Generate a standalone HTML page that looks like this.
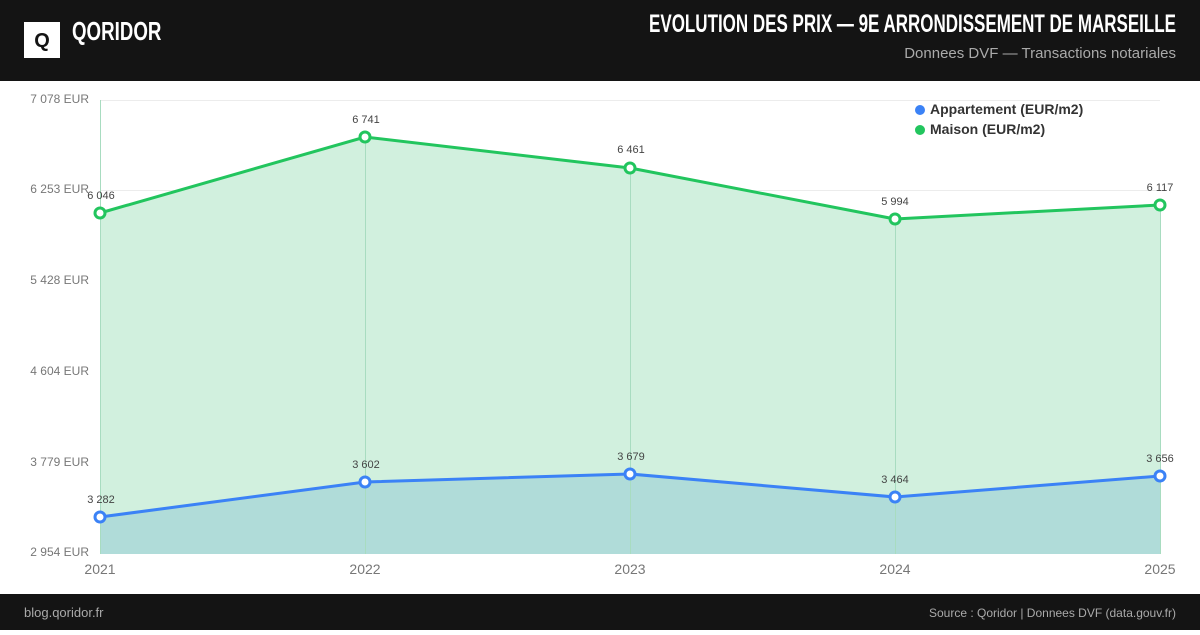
<!DOCTYPE html>
<html><head><meta charset="utf-8"><style>
body{margin:0;width:1200px;height:630px;overflow:hidden;background:#fff;font-family:"Liberation Sans",sans-serif}
</style></head><body>
<svg width="1200" height="630" xmlns="http://www.w3.org/2000/svg" font-family="Liberation Sans, sans-serif">
<rect x="0" y="0" width="1200" height="81" fill="#141414"/>
<rect x="24" y="22" width="36" height="36" fill="#fff"/>
<text x="42" y="47" text-anchor="middle" font-size="20" font-weight="bold" fill="#141414">Q</text>
<text x="72" y="40" font-size="26" font-weight="bold" fill="#fff" transform="translate(72 0) scale(0.72 1) translate(-72 0)">QORIDOR</text>
<text x="1176" y="32" text-anchor="end" font-size="25" font-weight="bold" fill="#fff" transform="translate(1176 0) scale(0.68 1) translate(-1176 0)">EVOLUTION DES PRIX — 9E ARRONDISSEMENT DE MARSEILLE</text>
<text x="1176" y="58" text-anchor="end" font-size="15" fill="#aaa">Donnees DVF — Transactions notariales</text>
<g stroke="#ececec" stroke-width="1">
<line x1="100" y1="100.5" x2="1160" y2="100.5"/>
<line x1="100" y1="190.5" x2="1160" y2="190.5"/>
<line x1="100" y1="281.5" x2="1160" y2="281.5"/>
<line x1="100" y1="372.5" x2="1160" y2="372.5"/>
<line x1="100" y1="462.5" x2="1160" y2="462.5"/>
<line x1="100" y1="553.5" x2="1160" y2="553.5"/>
</g>
<polygon points="100,213 365,137 630,168 895,219 1160,205 1160,554 100,554" fill="#d1f0de"/>
<polygon points="100,517 365,482 630,474 895,497 1160,476 1160,554 100,554" fill="#b0dcd9"/>
<g stroke="#a8dcc0" stroke-width="1">
<line x1="100.5" y1="100" x2="100.5" y2="554"/>
<line x1="365.5" y1="137" x2="365.5" y2="554"/>
<line x1="630.5" y1="168" x2="630.5" y2="554"/>
<line x1="895.5" y1="219" x2="895.5" y2="554"/>
<line x1="1160.5" y1="205" x2="1160.5" y2="554"/>
</g>
<polyline points="100,213 365,137 630,168 895,219 1160,205" fill="none" stroke="#22c55e" stroke-width="3"/>
<polyline points="100,517 365,482 630,474 895,497 1160,476" fill="none" stroke="#3b82f6" stroke-width="3"/>
<g fill="#fff" stroke="#22c55e" stroke-width="3">
<circle cx="100" cy="213" r="5"/><circle cx="365" cy="137" r="5"/><circle cx="630" cy="168" r="5"/><circle cx="895" cy="219" r="5"/><circle cx="1160" cy="205" r="5"/>
</g>
<g fill="#fff" stroke="#3b82f6" stroke-width="3">
<circle cx="100" cy="517" r="5"/><circle cx="365" cy="482" r="5"/><circle cx="630" cy="474" r="5"/><circle cx="895" cy="497" r="5"/><circle cx="1160" cy="476" r="5"/>
</g>
<g font-size="11" fill="#444" text-anchor="middle">
<text x="101" y="199">6 046</text><text x="366" y="123">6 741</text><text x="631" y="153">6 461</text><text x="895" y="205">5 994</text><text x="1160" y="191">6 117</text>
<text x="101" y="503">3 282</text><text x="366" y="468">3 602</text><text x="631" y="460">3 679</text><text x="895" y="483">3 464</text><text x="1160" y="462">3 656</text>
</g>
<g font-size="12" fill="#777" text-anchor="end">
<text x="89" y="103">7 078 EUR</text><text x="89" y="193">6 253 EUR</text><text x="89" y="284">5 428 EUR</text><text x="89" y="375">4 604 EUR</text><text x="89" y="466">3 779 EUR</text><text x="89" y="556">2 954 EUR</text>
</g>
<g font-size="14" fill="#777" text-anchor="middle">
<text x="100" y="574">2021</text><text x="365" y="574">2022</text><text x="630" y="574">2023</text><text x="895" y="574">2024</text><text x="1160" y="574">2025</text>
</g>
<circle cx="920" cy="110" r="5" fill="#3b82f6"/>
<text x="930" y="114" font-size="14" font-weight="bold" fill="#333">Appartement (EUR/m2)</text>
<circle cx="920" cy="130" r="5" fill="#22c55e"/>
<text x="930" y="134" font-size="14" font-weight="bold" fill="#333">Maison (EUR/m2)</text>
<rect x="0" y="594" width="1200" height="36" fill="#141414"/>
<text x="24" y="617" font-size="13" fill="#aaa">blog.qoridor.fr</text>
<text x="1176" y="617" font-size="12" fill="#aaa" text-anchor="end">Source : Qoridor | Donnees DVF (data.gouv.fr)</text>
</svg>
</body></html>
